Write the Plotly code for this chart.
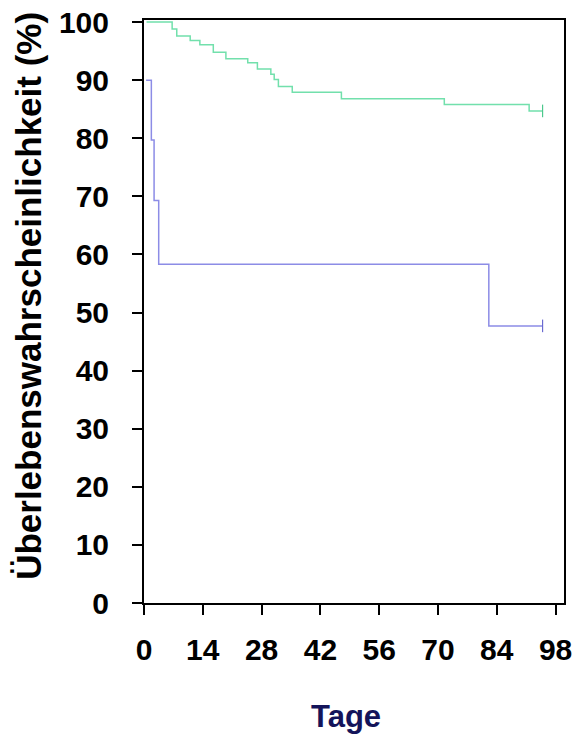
import plotly.graph_objects as go

# Kaplan-Meier steps
green_days = [0.6, 6.7, 7.8, 11.0, 13.3, 16.5, 19.5, 24.7, 27.0, 30.2, 31.0, 32.0, 35.3, 47.0, 71.5, 91.7, 94.9]
green_surv = [100, 98.8, 97.6, 96.8, 96.1, 94.8, 93.7, 93.0, 91.9, 91.0, 90.1, 88.9, 87.9, 86.8, 85.8, 84.7, 84.7]
blue_days = [0.5, 1.75, 2.4, 3.5, 82.1, 94.9]
blue_surv = [90, 79.7, 69.3, 58.3, 47.7, 47.7]
green_censor_day, green_censor_surv = [94.9], [84.7]
blue_censor_day, blue_censor_surv = [94.9], [47.7]

x_ticks = [0, 14, 28, 42, 56, 70, 84, 98]
y_ticks = [0, 10, 20, 30, 40, 50, 60, 70, 80, 90, 100]

GREEN = "#72e0ac"
BLUE = "#8c8ce6"
FONT = "Liberation Sans, Arial, sans-serif"

fig = go.Figure()
fig.add_trace(go.Scatter(x=green_days, y=green_surv, mode="lines", line=dict(shape="hv", color=GREEN, width=1.5), showlegend=False))
fig.add_trace(go.Scatter(x=blue_days, y=blue_surv, mode="lines", line=dict(shape="hv", color=BLUE, width=1.5), showlegend=False))
fig.add_trace(go.Scatter(x=green_censor_day, y=green_censor_surv, mode="markers",
                         marker=dict(symbol="line-ns", size=9, line=dict(color="#4cc88c", width=1.2)), showlegend=False))
fig.add_trace(go.Scatter(x=blue_censor_day, y=blue_censor_surv, mode="markers",
                         marker=dict(symbol="line-ns", size=9, line=dict(color="#6a6ad0", width=1.2)), showlegend=False))

fig.update_layout(
    width=576, height=734,
    margin=dict(l=144, r=12, t=20, b=131, autoexpand=False),
    paper_bgcolor="white", plot_bgcolor="white",
    font=dict(family=FONT, color="black"),
    xaxis=dict(range=[0, 100], tickvals=x_ticks, ticktext=[f"<b>{v}</b>" for v in x_ticks],
               ticks="outside", ticklen=10, tickwidth=2, tickcolor="black",
               showline=True, linecolor="black", linewidth=2, mirror=True,
               showgrid=False, zeroline=False, tickfont=dict(size=30, family=FONT),
               ticklabelstandoff=9, automargin=False),
    yaxis=dict(range=[0, 100.35], tickvals=y_ticks, ticktext=[f"<b>{v}</b>" for v in y_ticks],
               ticks="outside", ticklen=10, tickwidth=2, tickcolor="black",
               showline=True, linecolor="black", linewidth=2, mirror=True,
               showgrid=False, zeroline=False, tickfont=dict(size=30, family=FONT),
               ticklabelstandoff=17, automargin=False),
    annotations=[
        dict(text="<b>Tage</b>", xref="paper", yref="paper", x=0.48, y=-0.194,
             xanchor="center", yanchor="middle", showarrow=False,
             font=dict(size=31, family=FONT, color="#14145a")),
        dict(text="<b>Überlebenswahrscheinlichkeit (%)</b>", xref="paper", yref="paper",
             x=-0.275, y=0.526, xanchor="center", yanchor="middle", textangle=-90,
             showarrow=False, font=dict(size=35, family=FONT, color="black")),
    ],
)

fig.write_html("out.html")
